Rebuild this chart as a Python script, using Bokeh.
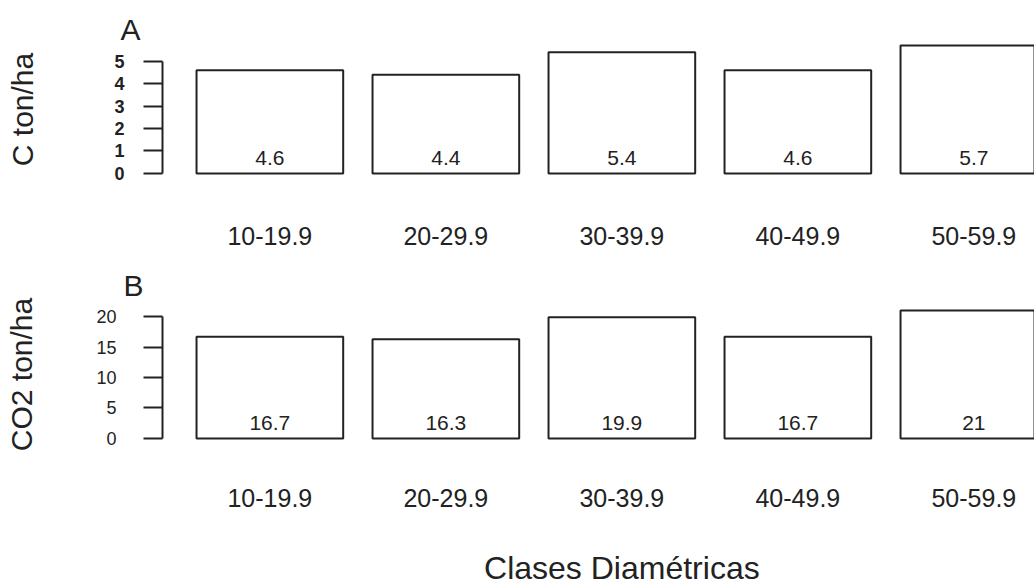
from bokeh.plotting import figure
from bokeh.models import Range1d, FixedTicker, ColumnDataSource, Title
from bokeh.layouts import column
from bokeh.embed import file_html
from bokeh.resources import INLINE
from bokeh.core.properties import value

# ---- data ----
categories = ["10-19.9", "20-29.9", "30-39.9", "40-49.9", "50-59.9"]
carbon = [4.6, 4.4, 5.4, 4.6, 5.7]
co2 = [16.7, 16.3, 19.9, 16.7, 21.0]
ticks_a = [0, 1, 2, 3, 4, 5]
ticks_b = [0, 5, 10, 15, 20]
x_title = "Clases Diamétricas"

FONT = "Liberation Sans"
INK = "#222222"
W = 1034
LEFT = 162
N = len(categories)

# R barplot geometry (width 1, space 0.2) expressed in category-index units
BAR_W = 1 / 1.2
r_left, r_right = 0.2, 1.2 * N
r_pad = 0.04 * (r_right - r_left)
X_LO = (r_left - r_pad - 0.7) / 1.2
PX_PER_UNIT = 176.0
X_HI = X_LO + (W - LEFT) / PX_PER_UNIT


def panel(vals, ticks, ylab, letter, height, top, bottom, tick_font, tick_bold,
          tick_standoff, ylab_standoff, cat_standoff, letter_dx, letter_standoff):
    ymax = max(vals)
    p = figure(width=W, height=height, output_backend="svg", toolbar_location=None,
               x_range=Range1d(X_LO, X_HI),
               y_range=Range1d(-0.04 * ymax, 1.04 * ymax),
               min_border_left=LEFT, min_border_right=0,
               min_border_top=top, min_border_bottom=bottom)
    p.outline_line_color = None
    p.grid.visible = False
    p.background_fill_color = "white"
    p.border_fill_color = "white"

    p.title = Title(text=letter, align="left", offset=letter_dx,
                    standoff=letter_standoff, text_font=FONT,
                    text_font_size="30px", text_font_style="normal",
                    text_color=INK)

    idx = list(range(N))
    src = ColumnDataSource(dict(x=idx, top=vals,
                                lab=[f"{v:g}" for v in vals]))
    p.vbar(x="x", top="top", bottom=0, width=BAR_W, source=src,
           fill_color="white", line_color=INK, line_width=2)
    p.text(x="x", y=0, text="lab", source=src, text_align="center",
           text_baseline="middle", y_offset=-15,
           text_font=value(FONT), text_font_size="21px", text_color=INK)

    # x axis: category labels only
    xa = p.xaxis[0]
    xa.ticker = FixedTicker(ticks=idx)
    xa.major_label_overrides = {i: c for i, c in zip(idx, categories)}
    xa.axis_line_color = None
    xa.major_tick_line_color = None
    xa.minor_tick_line_color = None
    xa.major_tick_out = 0
    xa.major_tick_in = 0
    xa.major_label_standoff = cat_standoff
    xa.major_label_text_font = FONT
    xa.major_label_text_font_size = "25px"
    xa.major_label_text_color = INK

    # y axis
    ya = p.yaxis[0]
    ya.ticker = FixedTicker(ticks=ticks)
    ya.bounds = (ticks[0], ticks[-1])
    ya.axis_line_color = INK
    ya.axis_line_width = 2
    ya.major_tick_line_color = INK
    ya.major_tick_line_width = 2
    ya.major_tick_out = 19
    ya.major_tick_in = 0
    ya.minor_tick_line_color = None
    ya.major_label_orientation = "horizontal"
    ya.major_label_standoff = tick_standoff
    ya.major_label_text_font = FONT
    ya.major_label_text_font_size = tick_font
    ya.major_label_text_font_style = "bold" if tick_bold else "normal"
    ya.major_label_text_color = INK
    ya.axis_label = ylab
    ya.axis_label_text_font = FONT
    ya.axis_label_text_font_size = "30px"
    ya.axis_label_text_font_style = "normal"
    ya.axis_label_text_color = INK
    ya.axis_label_standoff = ylab_standoff
    return p


pa = panel(carbon, ticks_a, "C ton/ha", "A", 258, 40, 80, "18px", True,
           19, 72, 48, -42, -11)
pb = panel(co2, ticks_b, "CO2 ton/ha", "B", 265, 47, 80, "18px", False,
           27, 55, 45, -39, 7)

# strip holding the common x-axis title, centred under the plotting region
pc = figure(width=W, height=64, output_backend="svg", toolbar_location=None,
            x_range=Range1d(X_LO, X_HI), y_range=Range1d(0, 1),
            x_axis_location=None, y_axis_location=None,
            min_border_left=LEFT, min_border_right=0,
            min_border_top=0, min_border_bottom=0)
pc.outline_line_color = None
pc.grid.visible = False
pc.text(x=[(N - 1) / 2], y=[0.5], text=[x_title], text_align="center",
        text_baseline="middle", y_offset=12, text_font=value(FONT),
        text_font_size="32px", text_color=INK)

layout = column(pa, pb, pc, spacing=0)
open("out.html", "w").write(file_html(layout, INLINE))
